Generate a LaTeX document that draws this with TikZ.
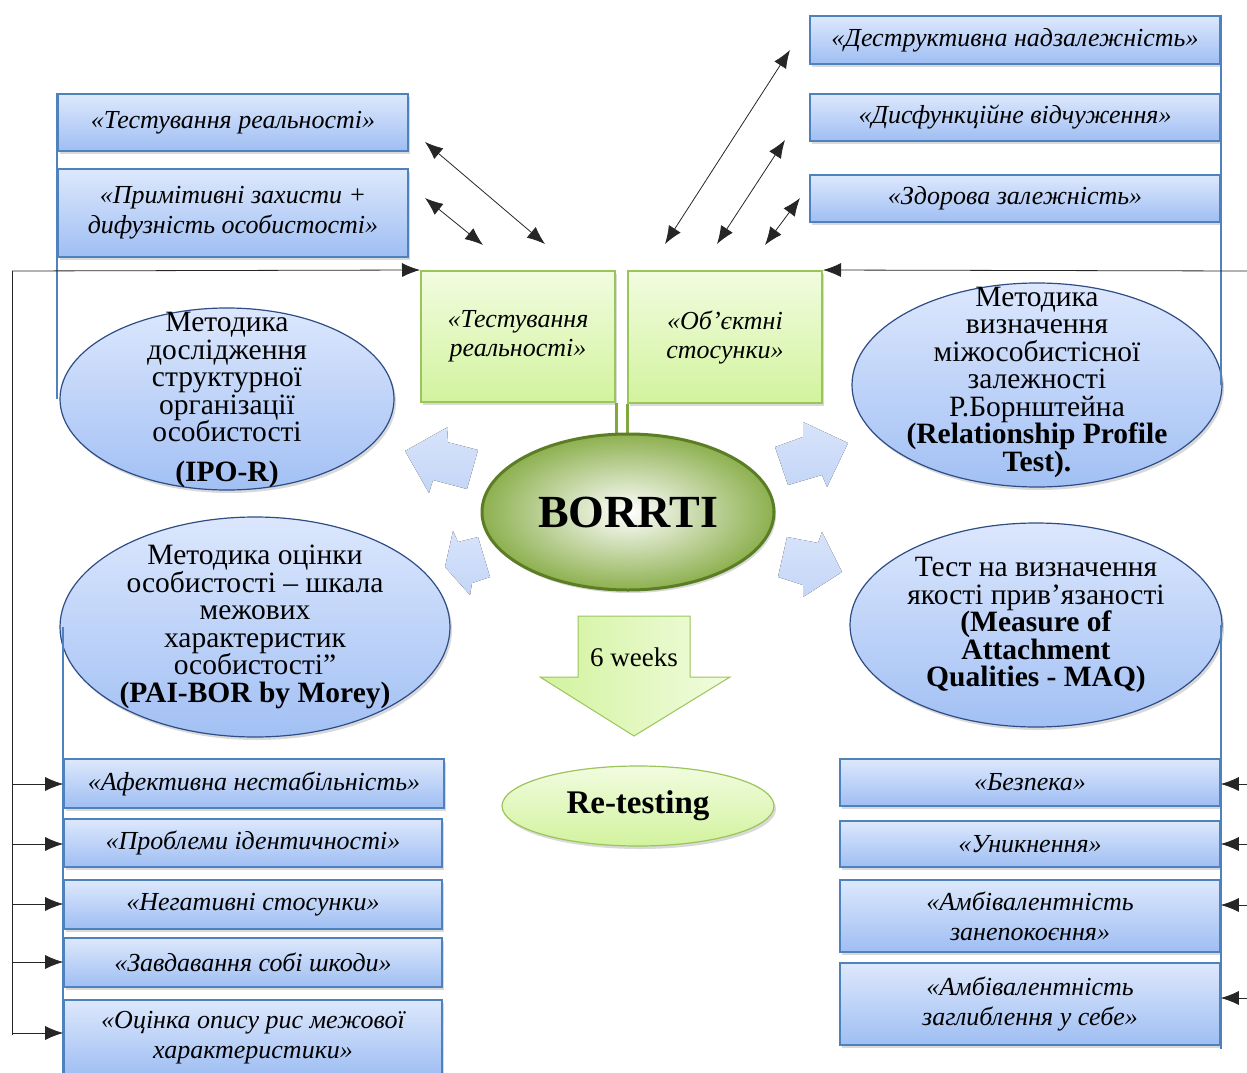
\documentclass[tikz,border=0pt]{standalone}
\usepackage{fontspec}
\setmainfont{Liberation Serif}
\usetikzlibrary{arrows.meta,shadows,shapes.geometric,calc}

\definecolor{boxline}{HTML}{4F81BD}
\definecolor{boxtop}{HTML}{DDE8FC}
\definecolor{boxbot}{HTML}{9FBEF3}
\definecolor{ellline}{HTML}{2E4D86}
\definecolor{elltop}{HTML}{DCE7FD}
\definecolor{ellbot}{HTML}{A2C0F4}
\definecolor{grline}{HTML}{9BC45A}
\definecolor{grtop}{HTML}{F1FCDF}
\definecolor{grbot}{HTML}{D2F39E}
\definecolor{stub}{HTML}{7FA83F}
\definecolor{coreedge}{HTML}{5B7D24}
\definecolor{coreout}{HTML}{8DB04F}
\definecolor{spoketop}{HTML}{D7E3FA}
\definecolor{spokebot}{HTML}{C4D6F7}

\tikzset{
  quotebox/.style={rectangle, draw=boxline, line width=1.6pt,
    top color=boxtop, bottom color=boxbot,
    drop shadow={opacity=0.3, shadow xshift=2pt, shadow yshift=-3pt},
    font=\fontsize{26}{30}\selectfont\itshape, align=center, inner sep=0pt},
  greenbox/.style={rectangle, draw=grline, line width=2pt,
    top color=grtop, bottom color=grbot,
    drop shadow={opacity=0.3, shadow xshift=2pt, shadow yshift=-3pt},
    font=\fontsize{26}{29}\selectfont\itshape, align=center, inner sep=0pt},
  method/.style={ellipse, draw=ellline, line width=1.2pt,
    top color=elltop, bottom color=ellbot,
    drop shadow={opacity=0.3, shadow xshift=2pt, shadow yshift=-3pt},
    inner sep=0pt},
  methtext/.style={font=\fontsize{29.5}{27.5}\selectfont, align=center, inner sep=0pt},
  blueline/.style={draw=boxline, line width=2pt},
  link/.style={draw=black!85, line width=0.8pt},
  tip/.style={-{Latex[length=18pt,width=14pt]}},
  twotip/.style={{Latex[length=18pt,width=14pt]}-{Latex[length=18pt,width=14pt]}},
  spoke/.style={top color=spoketop, bottom color=spokebot, draw=none}
}

\begin{document}
\begin{tikzpicture}[x=1pt,y=-1pt]
\useasboundingbox (0,0) rectangle (1247,1073);
\clip (0,0) rectangle (1247,1073);

% ---------- scale boxes ----------
\node[quotebox, minimum width=350, minimum height=57] (b1) at (233,122.5) {«Тестування реальності»};
\node[quotebox, minimum width=350, minimum height=88] (b2) at (233,213) {«Примітивні захисти +\\ дифузність особистості»};
\node[quotebox, minimum width=410, minimum height=48] (r1) at (1015,40) {«Деструктивна надзалежність»};
\node[quotebox, minimum width=410, minimum height=47] (r2) at (1015,117.5) {«Дисфункційне відчуження»};
\node[quotebox, minimum width=410, minimum height=47] (r3) at (1015,198.5) {«Здорова залежність»};

% ---------- methods ----------
\node[method, minimum width=334, minimum height=182] (e1) at (227,399) {};
\node[method, minimum width=370, minimum height=204] (e2) at (1037,385) {};
\node[method, minimum width=390, minimum height=220] (e3) at (255,627) {};
\node[method, minimum width=372, minimum height=204] (e4) at (1036,625) {};

% blue rails along the groups of scales
\draw[blueline] (b1.north west) -- (b1.north west |- e1.west);
\draw[blueline] (r1.north east) -- (r1.north east |- e2.east);

\node[methtext] (t1) at (227,400) {Методика\\ дослідження\\ структурної\\ організації\\ особистості\\[12pt] \textbf{(IPO-R)}};
\node[methtext] (t2) at (1037,382) {Методика\\ визначення\\ міжособистісної\\ залежності\\ Р.Борнштейна\\ \textbf{(Relationship Profile}\\ \textbf{Test).}};
\node[methtext] (t3) at (255,627) {Методика оцінки\\ особистості – шкала\\ межових\\ характеристик\\ особистості”\\ \textbf{(PAI-BOR by Morey)}};
\node[methtext] (t4) at (1036,625) {Тест на визначення\\ якості прив’язаності\\ \textbf{(Measure of}\\ \textbf{Attachment}\\ \textbf{Qualities - MAQ)}};

% ---------- BORRTI sections ----------
\node[greenbox, minimum width=194, minimum height=131] (g1) at (518,336.5) {«Тестування\\ реальності»};
\node[greenbox, minimum width=194, minimum height=132] (g2) at (725,337) {«Об’єктні\\ стосунки»};
\draw[stub, line width=3pt] (g1.south east) -- ++(0,38);
\draw[stub, line width=3pt] (g2.south west) -- ++(0,38);

\node[ellipse, draw=coreedge, line width=3pt, inner color=white, outer color=coreout,
      minimum width=292, minimum height=156, inner sep=0pt,
      drop shadow={opacity=0.3, shadow xshift=2pt, shadow yshift=-3pt},
      font=\fontsize{46}{50}\selectfont\bfseries] (borrti) at (628,512) {BORRTI};

% spokes from the core towards the methods
\fill[spoke] (405,451) -- (448,427) -- (447,442) -- (478,450) -- (467,489) -- (433,480) -- (429,493) -- cycle;
\fill[spoke] (445,567) -- (453,531) -- (458,542) -- (478,537) -- (490,577) -- (472,583) -- (470,595) -- cycle;
\fill[spoke] (848,443) -- (803,422) -- (803,437) -- (775,447) -- (788,485) -- (822,475) -- (827,487) -- cycle;
\fill[spoke] (842,572) -- (822,532) -- (818,543) -- (787,537) -- (778,577) -- (803,585) -- (803,597) -- cycle;

% ---------- retest ----------
\draw[draw=grline, line width=1pt, left color=grbot, right color=grtop]
  (578,616) -- (690,616) -- (690,677) -- (730,677) -- (634,736) -- (540,677) -- (578,677) -- cycle;
\node[font=\fontsize{27}{30}\selectfont, inner sep=0pt] (wk) at (634,657) {6 weeks};
\node[ellipse, draw=grline, line width=1.2pt, top color=grtop, bottom color=grbot,
      minimum width=272, minimum height=80, inner sep=0pt,
      drop shadow={opacity=0.3, shadow xshift=2pt, shadow yshift=-3pt},
      font=\fontsize{33}{36}\selectfont\bfseries] (retest) at (638,806) {Re-testing};

% ---------- subscales ----------
\node[quotebox, minimum width=380, minimum height=49] (l1) at (254,783.5) {«Афективна нестабільність»};
\node[quotebox, minimum width=378, minimum height=48] (l2) at (253,843) {«Проблеми ідентичності»};
\node[quotebox, minimum width=378, minimum height=49] (l3) at (253,904.5) {«Негативні стосунки»};
\node[quotebox, minimum width=378, minimum height=49] (l4) at (253,962.5) {«Завдавання собі шкоди»};
\node[quotebox, minimum width=378, minimum height=76] (l5) at (253,1038) {«Оцінка опису рис межової\\ характеристики»};

\node[quotebox, minimum width=380, minimum height=47] (q1) at (1030,782.5) {«Безпека»};
\node[quotebox, minimum width=380, minimum height=46] (q2) at (1030,844) {«Уникнення»};
\node[quotebox, minimum width=380, minimum height=72] (q3) at (1030,916) {«Амбівалентність\\ занепокоєння»};
\node[quotebox, minimum width=380, minimum height=82] (q4) at (1030,1004) {«Амбівалентність\\ заглиблення у себе»};

\draw[blueline] (l1.west |- e3.west) -- (l5.south west);
\draw[blueline] (q1.east |- e4.east) -- ($(q4.south east)+(0,3)$);

% ---------- black connectors ----------
\coordinate (lt) at (12,271);
\coordinate (lb) at (12,1035);
\coordinate (rt) at (1247,271);
\draw[link] (lb) -- (lt);
\draw[link, tip] (lt) -- (g1.north west);
\draw[link, tip] (rt) -- (g2.north east);

\coordinate (k1) at (12,784);
\coordinate (k2) at (12,844);
\coordinate (k3) at (12,904);
\coordinate (k4) at (12,962);
\coordinate (k5) at (12,1033);
\draw[link, tip] (k1) -- (k1 -| l1.west);
\draw[link, tip] (k2) -- (k2 -| l2.west);
\draw[link, tip] (k3) -- (k3 -| l3.west);
\draw[link, tip] (k4) -- (k4 -| l4.west);
\draw[link, tip] (k5) -- (k5 -| l5.west);

\coordinate (m1) at (1247,784);
\coordinate (m2) at (1247,844);
\coordinate (m3) at (1247,905);
\coordinate (m4) at (1247,998);
\draw[link, tip] (m1) -- (m1 -| q1.east);
\draw[link, tip] (m2) -- (m2 -| q2.east);
\draw[link, tip] (m3) -- (m3 -| q3.east);
\draw[link, tip] (m4) -- (m4 -| q4.east);

% two-way links between the scales and the sections
\coordinate (a1s) at (425,142);  \coordinate (a1e) at (545,244);
\coordinate (a2s) at (425,198);  \coordinate (a2e) at (483,245);
\coordinate (a3s) at (790,50);   \coordinate (a3e) at (665,244);
\coordinate (a4s) at (785,140);  \coordinate (a4e) at (717,244);
\coordinate (a5s) at (800,198);  \coordinate (a5e) at (765,245);
\draw[link, twotip] (a1s) -- (a1e);
\draw[link, twotip] (a2s) -- (a2e);
\draw[link, twotip] (a3s) -- (a3e);
\draw[link, twotip] (a4s) -- (a4e);
\draw[link, twotip] (a5s) -- (a5e);
\end{tikzpicture}
\end{document}
